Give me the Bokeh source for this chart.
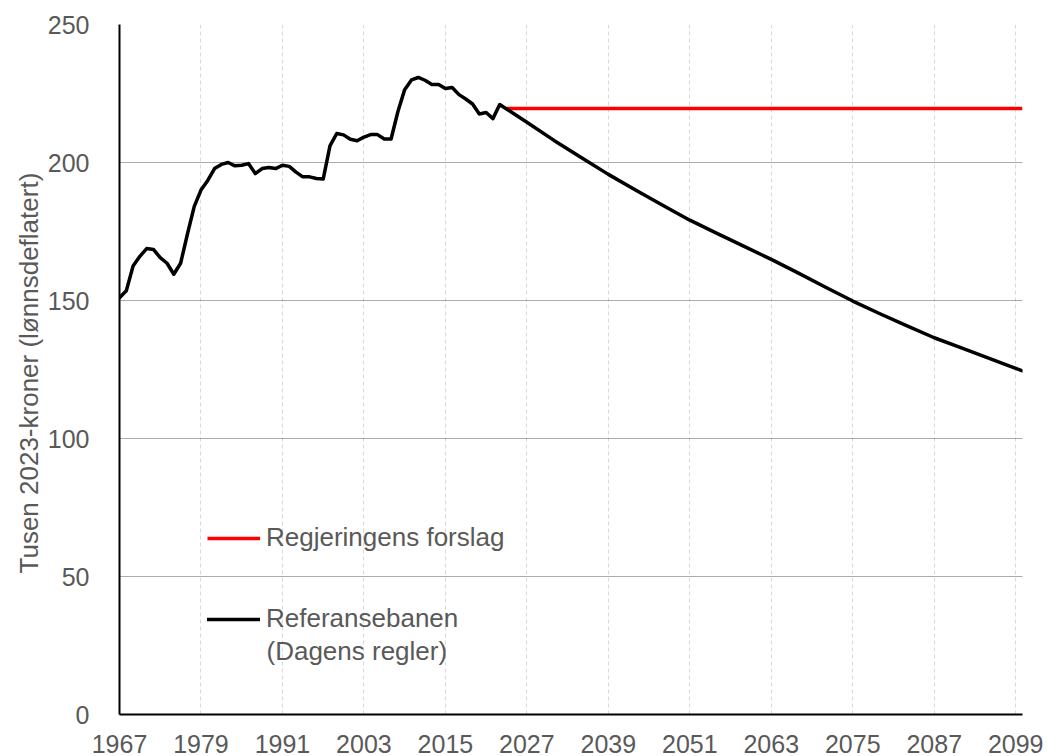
from bokeh.plotting import figure
from bokeh.models import Range1d, FixedTicker, Legend, LegendItem, Label
from bokeh.embed import file_html
from bokeh.resources import INLINE

# ---- data ----
hist_years = list(range(1967, 2025))
hist_values = [
    151.0, 153.5, 162.5, 166.0, 168.8, 168.5, 165.5, 163.5, 159.5, 163.5,  # 1967-1976
    174.0, 184.0, 190.0, 193.5, 197.8, 199.3, 200.0, 198.8, 199.0, 199.6,  # 1977-1986
    196.0, 197.8, 198.2, 197.8, 199.0, 198.6, 196.5, 194.8, 194.8, 194.2,  # 1987-1996
    194.0, 206.0, 210.5, 210.0, 208.4, 207.9, 209.2, 210.1, 210.1, 208.5,  # 1997-2006
    208.5, 218.4, 226.4, 229.9, 230.8, 229.8, 228.3, 228.3, 226.8, 227.2,  # 2007-2016
    224.6, 223.0, 221.2, 217.6, 218.1, 215.9, 221.0, 219.4,                # 2017-2024
]
proj_years = [2027, 2031, 2035, 2039, 2043, 2047, 2051, 2055, 2059, 2063,
              2067, 2071, 2075, 2079, 2083, 2087, 2091, 2095, 2099, 2100]
proj_values = [214.6, 208.0, 201.8, 195.7, 190.0, 184.5, 179.1, 174.3, 169.6, 164.9,
               159.9, 154.8, 149.8, 145.2, 140.8, 136.5, 132.8, 129.1, 125.4, 124.5]

ref_years = hist_years + proj_years
ref_values = hist_values + proj_values

forslag_years = [2024, 2100]
forslag_values = [219.6, 219.6]

x_ticks = list(range(1967, 2100, 12))
y_ticks = [0, 50, 100, 150, 200, 250]

label_forslag = "Regjeringens forslag"
label_ref = "Referansebanen"
label_ref2 = "(Dagens regler)"
y_title = "Tusen  2023-kroner (lønnsdeflatert)"

FONT = "Liberation Sans"
TXT = "#595959"

W, H = 1048, 756
p = figure(width=W, height=H, output_backend="svg", toolbar_location=None,
           x_range=Range1d(1967, 2100), y_range=Range1d(0, 250),
           min_border_left=119, min_border_right=26,
           min_border_top=24, min_border_bottom=42)
p.outline_line_color = None
p.background_fill_color = "white"
p.border_fill_color = "white"

# axes
for ax in (p.xaxis[0], p.yaxis[0]):
    ax.axis_line_color = "black"
    ax.axis_line_width = 2
    ax.major_tick_line_color = None
    ax.minor_tick_line_color = None
    ax.major_label_text_font = FONT
    ax.major_label_text_font_size = "25px"
    ax.major_label_text_color = TXT

p.xaxis.ticker = FixedTicker(ticks=x_ticks)
p.yaxis.ticker = FixedTicker(ticks=y_ticks)
p.xaxis.major_label_standoff = 14
p.yaxis.major_label_standoff = 24
p.yaxis.axis_label = y_title
p.yaxis.axis_label_text_font = FONT
p.yaxis.axis_label_text_font_size = "26px"
p.yaxis.axis_label_text_font_style = "normal"
p.yaxis.axis_label_text_color = TXT
p.yaxis.axis_label_standoff = 1

# grids
p.xgrid.ticker = FixedTicker(ticks=x_ticks)
p.xgrid.grid_line_color = "#d9d9d9"
p.xgrid.grid_line_width = 1
p.xgrid.grid_line_dash = "4 3"
p.ygrid.ticker = FixedTicker(ticks=y_ticks)
p.ygrid.grid_line_color = "#595959"
p.ygrid.grid_line_width = 1
p.ygrid.grid_line_dash = "1 1"

# series
r_red = p.line(forslag_years, forslag_values, line_color="#ff0000", line_width=3.5)
r_blk = p.line(ref_years, ref_values, line_color="#000000", line_width=3.5,
               line_join="round", line_cap="round")

legend = Legend(items=[LegendItem(label=label_forslag, renderers=[r_red]),
                       LegendItem(label=label_ref, renderers=[r_blk])],
                location=(88, 80), orientation="vertical",
                padding=0, margin=0, spacing=50,
                glyph_width=53, glyph_height=20, label_standoff=6,
                label_text_font=FONT, label_text_font_size="26px",
                label_text_color=TXT,
                border_line_color=None, background_fill_alpha=0)
p.add_layout(legend)

p.add_layout(Label(x=1988.65, y=23, text=label_ref2, text_font=FONT,
                   text_font_size="26px", text_color=TXT,
                   text_align="left", text_baseline="middle"))

open("out.html", "w").write(file_html(p, INLINE))
